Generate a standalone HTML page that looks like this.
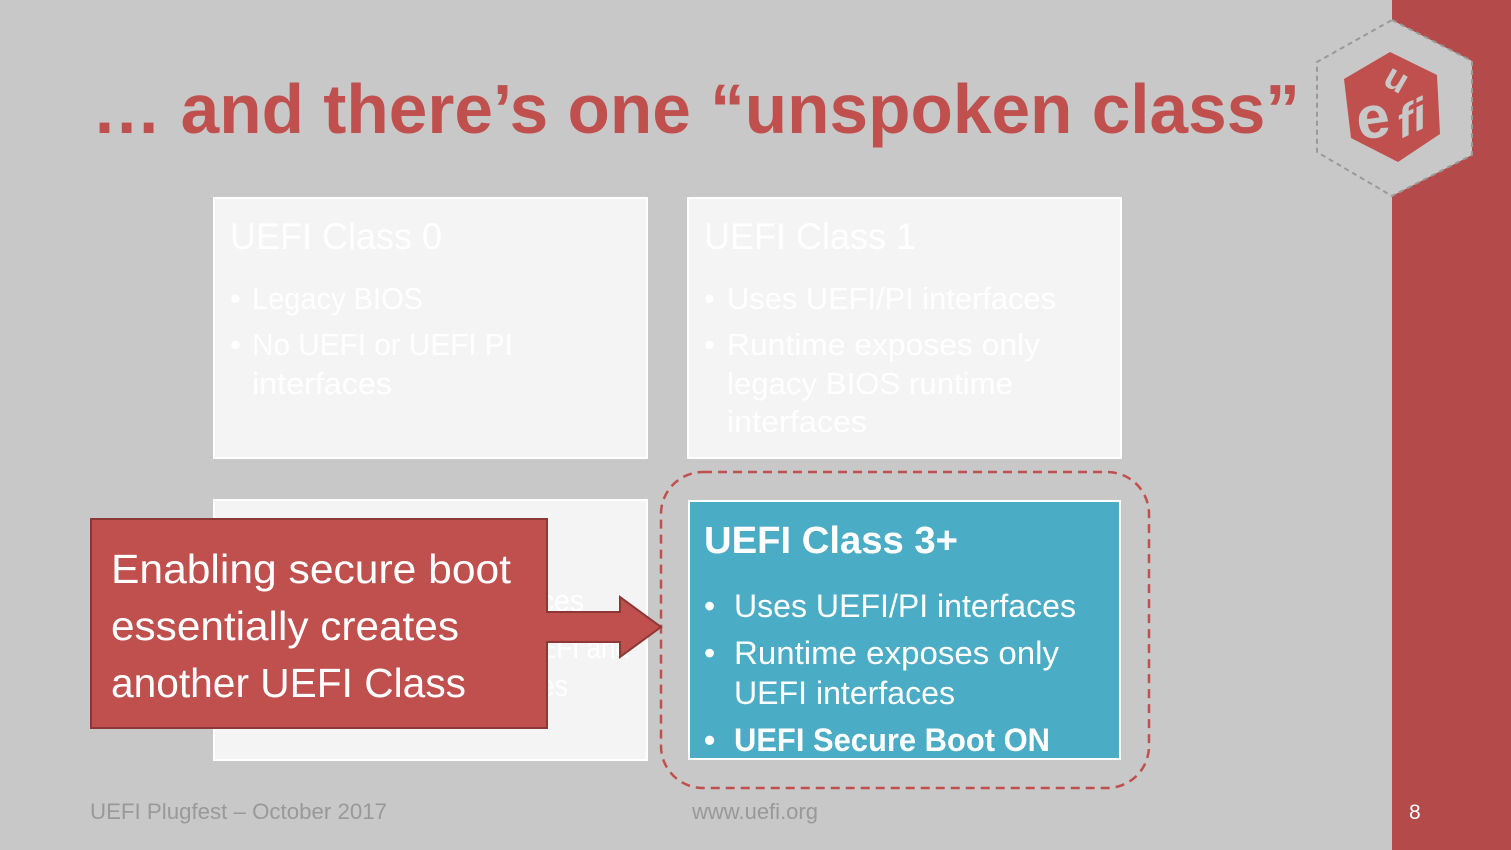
<!DOCTYPE html>
<html><head><meta charset="utf-8"><style>
html,body{margin:0;padding:0;background:#c8c8c8;}
svg{display:block;}
text{font-family:"Liberation Sans",sans-serif;}
</style></head><body>
<svg width="1511" height="850" viewBox="0 0 1511 850" xmlns="http://www.w3.org/2000/svg">
<rect width="1511" height="850" fill="#c8c8c8"/>
<rect x="1392" y="0" width="119" height="850" fill="#b44a49"/>
<!-- logo -->
<polygon points="1392,20 1472,61 1472,155 1392,196 1317,152 1317,62" fill="#c8c8c8"/>
<polygon points="1392,20 1472,61 1472,155 1392,196 1317,152 1317,62" fill="none" stroke="#999" stroke-width="2" stroke-dasharray="5,4"/>
<polygon points="1344,79 1390,52 1437,75 1440,134 1398,162 1351,138" fill="#c0504d"/>
<text x="1355" y="138" font-size="60" font-weight="bold" fill="#c8c8c8" transform="rotate(-8 1370 110)">e</text>
<text x="1385" y="90" font-size="36" font-weight="bold" fill="#c8c8c8" transform="rotate(30 1395 80)">u</text>
<text x="1398" y="142" font-size="46" font-weight="bold" fill="#c8c8c8" transform="skewY(-25) translate(0,650)">fi</text>
<!-- title -->
<text x="92" y="133" font-size="70" font-weight="bold" fill="#c0504d" textLength="1208" lengthAdjust="spacingAndGlyphs">… and there’s one “unspoken class”</text>
<!-- boxes -->
<rect x="214" y="198" width="433" height="260" fill="#f4f4f4" stroke="#fff" stroke-width="2"/>
<rect x="688" y="198" width="433" height="260" fill="#f4f4f4" stroke="#fff" stroke-width="2"/>
<rect x="214" y="500" width="433" height="260" fill="#f4f4f4" stroke="#fff" stroke-width="2"/>
<g fill="#fff" font-size="31">
<text x="230" y="249" font-size="37" textLength="212" lengthAdjust="spacingAndGlyphs">UEFI Class 0</text>
<text x="230" y="309">•</text><text x="252" y="309" textLength="171" lengthAdjust="spacingAndGlyphs">Legacy BIOS</text>
<text x="230" y="355">•</text><text x="252" y="355" textLength="261" lengthAdjust="spacingAndGlyphs">No UEFI or UEFI PI</text>
<text x="252" y="394" textLength="140" lengthAdjust="spacingAndGlyphs">interfaces</text>
<text x="704" y="249" font-size="37" textLength="212" lengthAdjust="spacingAndGlyphs">UEFI Class 1</text>
<text x="704" y="309">•</text><text x="727" y="309" textLength="329" lengthAdjust="spacingAndGlyphs">Uses UEFI/PI interfaces</text>
<text x="704" y="355">•</text><text x="727" y="355" textLength="313" lengthAdjust="spacingAndGlyphs">Runtime exposes only</text>
<text x="727" y="394" textLength="286" lengthAdjust="spacingAndGlyphs">legacy BIOS runtime</text>
<text x="727" y="432" textLength="140" lengthAdjust="spacingAndGlyphs">interfaces</text>
<text x="540" y="611" textLength="44" lengthAdjust="spacingAndGlyphs">ces</text>
<text x="520" y="658" textLength="110" lengthAdjust="spacingAndGlyphs">UEFI and</text>
<text x="540" y="696" textLength="28" lengthAdjust="spacingAndGlyphs">es</text>
</g>
<!-- class 3 -->
<rect x="661" y="472" width="488" height="316" rx="42" ry="42" fill="none" stroke="#c0504d" stroke-width="2.5" stroke-dasharray="9,6"/>
<rect x="689" y="501" width="431" height="258" fill="#4bacc6" stroke="#fff" stroke-width="2"/>
<g fill="#fff" font-size="32">
<text x="704" y="553" font-size="38" font-weight="bold" textLength="254" lengthAdjust="spacingAndGlyphs">UEFI Class 3+</text>
<text x="704" y="617">•</text><text x="734" y="617" textLength="342" lengthAdjust="spacingAndGlyphs">Uses UEFI/PI interfaces</text>
<text x="704" y="664">•</text><text x="734" y="664" textLength="325" lengthAdjust="spacingAndGlyphs">Runtime exposes only</text>
<text x="734" y="704" textLength="221" lengthAdjust="spacingAndGlyphs">UEFI interfaces</text>
<text x="704" y="751" font-weight="bold">•</text><text x="734" y="751" font-weight="bold" textLength="316" lengthAdjust="spacingAndGlyphs">UEFI Secure Boot ON</text>
</g>
<!-- callout -->
<polygon points="546,612 620,612 620,597 661,627 620,657 620,642 546,642" fill="#c0504d" stroke="#8c3836" stroke-width="2"/>
<rect x="91" y="519" width="456" height="209" fill="#c0504d" stroke="#8c3836" stroke-width="2"/>
<rect x="540" y="613" width="9" height="28" fill="#c0504d"/>
<g fill="#fff" font-size="41">
<text x="111" y="583" textLength="400" lengthAdjust="spacingAndGlyphs">Enabling secure boot</text>
<text x="111" y="640" textLength="348" lengthAdjust="spacingAndGlyphs">essentially creates</text>
<text x="111" y="697" textLength="355" lengthAdjust="spacingAndGlyphs">another UEFI Class</text>
</g>
<!-- footer -->
<text x="90" y="819" font-size="22" fill="#999" textLength="297" lengthAdjust="spacingAndGlyphs">UEFI Plugfest – October 2017</text>
<text x="692" y="819" font-size="22" fill="#999" textLength="126" lengthAdjust="spacingAndGlyphs">www.uefi.org</text>
<text x="1409" y="819" font-size="21" fill="#fff">8</text>
</svg>
</body></html>
